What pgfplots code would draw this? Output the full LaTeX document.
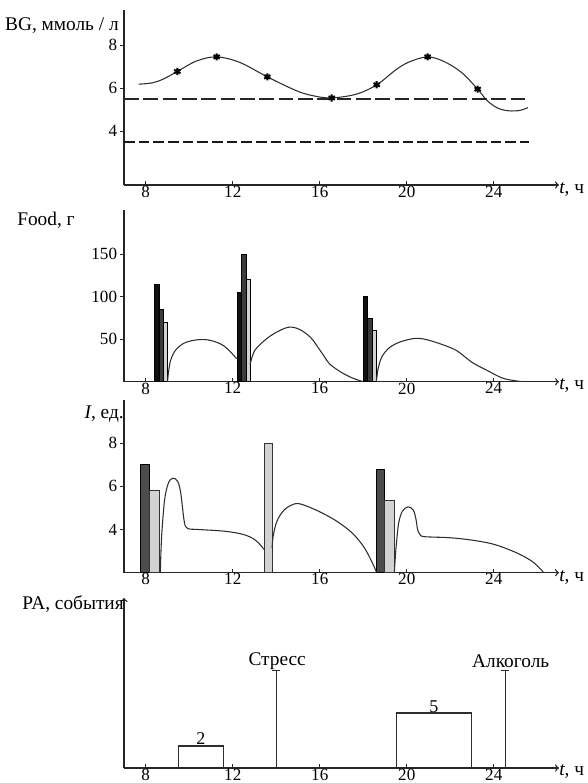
\documentclass[border=0pt]{standalone}
\usepackage{pgfplots}
\pgfplotsset{compat=1.18}
\usepackage{fontspec}
\setmainfont{Liberation Serif}
\definecolor{lc}{HTML}{2E2E2E}
\definecolor{bk}{HTML}{111111}
\definecolor{dg}{HTML}{3C3C3C}
\definecolor{mg}{HTML}{4C4C4C}
\definecolor{lg}{HTML}{D2D2D2}
\newcommand{\fs}{\fontsize{12.8}{14}\selectfont}
\newcommand{\fl}{\fontsize{14.5}{16}\selectfont}
\pgfplotsset{
  panel/.style={
    scale only axis, width=326.25pt, xmin=7, xmax=27,
    axis lines=left,
    axis line style={line width=1pt, color=black!85},
    x axis line style={-to},
    y axis line style={-},
    anchor=south west,
    xtick={8,12,16,20,24},
    tick style={black!85, line width=0.7pt},
    major tick length=3pt,
    xtick align=inside, ytick align=outside,
    tick label style={font=\fs},
    /pgf/number format/assume math mode=true,
    xticklabel style={inner sep=0.5pt},
    yticklabel style={inner sep=2pt},
  },
  curve/.style={lc, line width=0.8pt, smooth, tension=0.55},
}
\begin{document}
\begin{tikzpicture}
\path[use as bounding box] (0,0) rectangle (440.25pt,-587.25pt);

% ---------- Panel 1: BG ----------
\begin{axis}[panel, at={(93pt,-138.75pt)}, height=131.25pt, ymin=1.5, ymax=9.64, ytick={4,6,8}]
\addplot[curve] coordinates {(7.67,6.19)(8.3,6.25)(8.81,6.43)(9.45,6.78)(10.34,7.27)(11.26,7.46)(12.33,7.2)(13.59,6.53)(14.94,5.88)(15.7,5.65)(16.55,5.55)(17.7,5.73)(18.62,6.16)(19.54,6.89)(20.15,7.24)(20.96,7.46)(21.7,7.25)(22.5,6.75)(23.26,5.96)(23.7,5.42)(24.2,5.07)(24.7,4.95)(25.2,4.97)(25.57,5.1)};
\addplot[only marks, mark=asterisk, mark size=2.7pt, line width=1.5pt, black] coordinates {(9.45,6.78)(11.26,7.46)(13.59,6.53)(16.55,5.55)(18.62,6.16)(20.96,7.46)(23.26,5.96)};
\addplot[black!85, line width=1.4pt, dash pattern=on 11pt off 3.5pt] coordinates {(7,5.5)(25.6,5.5)};
\addplot[black!90, line width=2pt, dash pattern=on 8pt off 3pt] coordinates {(7,3.5)(25.6,3.5)};
\end{axis}

% ---------- Panel 2: Food ----------
\begin{axis}[panel, at={(93pt,-286.3pt)}, height=128.8pt, ymin=0, ymax=201.8, ytick={50,100,150}]
\addplot[fill=bk, draw=black, line width=0.4pt] coordinates {(8.41,0)(8.41,115)(8.61,115)(8.61,0)} -- cycle;
\addplot[fill=dg, draw=black, line width=0.4pt] coordinates {(8.61,0)(8.61,85)(8.82,85)(8.82,0)} -- cycle;
\addplot[fill=lg, draw=black, line width=0.4pt] coordinates {(8.82,0)(8.82,70)(9.0,70)(9.0,0)} -- cycle;
\addplot[fill=bk, draw=black, line width=0.4pt] coordinates {(12.2,0)(12.2,105)(12.4,105)(12.4,0)} -- cycle;
\addplot[fill=dg, draw=black, line width=0.4pt] coordinates {(12.4,0)(12.4,150)(12.6,150)(12.6,0)} -- cycle;
\addplot[fill=lg, draw=black, line width=0.4pt] coordinates {(12.6,0)(12.6,120)(12.8,120)(12.8,0)} -- cycle;
\addplot[fill=bk, draw=black, line width=0.4pt] coordinates {(18.0,0)(18.0,100)(18.2,100)(18.2,0)} -- cycle;
\addplot[fill=dg, draw=black, line width=0.4pt] coordinates {(18.2,0)(18.2,75)(18.4,75)(18.4,0)} -- cycle;
\addplot[fill=lg, draw=black, line width=0.4pt] coordinates {(18.4,0)(18.4,60)(18.6,60)(18.6,0)} -- cycle;
\addplot[curve] coordinates {(9.0,0)(9.05,12)(9.13,24)(9.25,32)(9.4,38)(9.7,44.5)(10.0,47.5)(10.45,49.5)(10.9,49)(11.3,46)(11.6,42)(11.9,35)(12.18,27)};
\addplot[curve] coordinates {(12.8,21)(12.9,30)(13.0,36.5)(13.35,46)(13.86,56)(14.55,64)(15.07,61.5)(15.58,52)(15.93,40)(16.2,30)(16.45,21)(16.96,11.5)(17.48,4.6)(17.82,1.5)(18.0,0)};
\addplot[curve] coordinates {(18.6,0)(18.64,8)(18.68,15)(18.85,29)(19.2,40)(19.72,47)(20.4,51)(20.9,49.5)(21.6,44)(22.3,36.5)(22.99,23)(23.68,13.5)(24.37,4.6)(24.9,1.5)(25.35,0)};
\end{axis}

% ---------- Panel 3: Insulin ----------
\begin{axis}[panel, at={(93pt,-429.5pt)}, height=129.5pt, ymin=2, ymax=10, ytick={4,6,8}]
\addplot[fill=mg, draw=black, line width=0.4pt] coordinates {(7.77,2)(7.77,7.0)(8.18,7.0)(8.18,2)} -- cycle;
\addplot[fill=lg, draw=black!80, line width=0.4pt] coordinates {(8.18,2)(8.18,5.82)(8.63,5.82)(8.63,2)} -- cycle;
\addplot[fill=lg, draw=black!80, line width=0.4pt] coordinates {(13.45,2)(13.45,8.0)(13.81,8.0)(13.81,2)} -- cycle;
\addplot[fill=mg, draw=black, line width=0.4pt] coordinates {(18.6,2)(18.6,6.8)(18.98,6.8)(18.98,2)} -- cycle;
\addplot[fill=lg, draw=black!80, line width=0.4pt] coordinates {(18.98,2)(18.98,5.34)(19.43,5.34)(19.43,2)} -- cycle;
\addplot[curve] coordinates {(8.67,2)(8.7,3.0)(8.75,4.0)(8.87,5.4)(9.04,6.15)(9.25,6.38)(9.47,6.23)(9.6,5.75)(9.68,5.1)(9.75,4.5)(9.82,4.15)(9.95,4.03)(10.42,4.0)(11.63,3.92)(12.49,3.77)(13.0,3.54)(13.3,3.25)(13.43,3.08)};
\addplot[curve] coordinates {(13.81,3.15)(13.86,3.7)(14.03,4.38)(14.38,4.92)(14.9,5.2)(15.41,5.08)(16.1,4.77)(16.79,4.38)(17.48,3.85)(18.0,3.23)(18.34,2.62)(18.6,2.05)};
\addplot[curve] coordinates {(19.43,2)(19.48,2.8)(19.53,3.4)(19.63,4.31)(19.8,4.85)(20.06,5.05)(20.3,4.9)(20.42,4.5)(20.5,4.0)(20.6,3.78)(20.8,3.67)(21.96,3.62)(22.99,3.51)(24.02,3.31)(25.05,2.92)(25.74,2.54)(26.09,2.23)(26.3,2.0)};
\end{axis}

% ---------- Panel 4: PA ----------
\begin{axis}[panel, at={(93pt,-576pt)}, height=127.5pt, ymin=0, ymax=15.45, ytick=\empty, y axis line style={-to}]
\addplot[lc, line width=0.8pt] coordinates {(9.51,0)(9.51,2)(11.56,2)(11.56,0)};
\addplot[lc, line width=0.8pt] coordinates {(19.55,0)(19.55,5)(22.99,5)(22.99,0)};
\addplot[lc, line width=0.8pt] coordinates {(14.0,0)(14.0,8.9)};
\addplot[lc, line width=0.8pt] coordinates {(13.82,8.9)(14.18,8.9)};
\addplot[lc, line width=0.8pt] coordinates {(24.52,0)(24.52,8.9)};
\addplot[lc, line width=0.8pt] coordinates {(24.34,8.9)(24.7,8.9)};
\node[font=\fontsize{13.5}{15}\selectfont] at (axis cs:10.54,2.65) {2};
\node[font=\fontsize{13.5}{15}\selectfont] at (axis cs:21.25,5.6) {5};
\node[font=\fl] at (axis cs:14.04,9.7) {Стресс};
\node[font=\fl] at (axis cs:24.78,9.7) {Алкоголь};
\end{axis}

% ---------- Labels ----------
\begin{scope}[x=0.75pt,y=-0.75pt, every node/.style={font=\fl, inner sep=0pt}]
\node[anchor=east] at (119,26) {BG, ммоль / л};
\node[anchor=west] at (17,220) {Food, г};
\node[anchor=east] at (124,414) {\textit{I}, ед.};
\node[anchor=east] at (124,604) {PA, события};
\node[anchor=west] at (559,190) {\textit{t}, ч};
\node[anchor=west] at (559,386) {\textit{t}, ч};
\node[anchor=west] at (559,578) {\textit{t}, ч};
\node[anchor=west] at (559,772) {\textit{t}, ч};
\end{scope}
\end{tikzpicture}
\end{document}
